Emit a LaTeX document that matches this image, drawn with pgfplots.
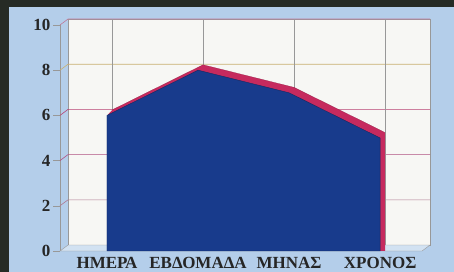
\documentclass[border=0pt]{standalone}
\usepackage{fontspec}
\setmainfont{Liberation Serif}
\usepackage{pgfplots}
\usepackage{pgfplotstable}
\pgfplotsset{compat=1.18}
\definecolor{bgdark}{HTML}{262B25}
\definecolor{panel}{HTML}{B4CEEA}
\definecolor{wall}{HTML}{F7F7F4}
\definecolor{navy}{HTML}{183B8C}
\definecolor{crim}{HTML}{C62A5E}
\definecolor{gridg}{HTML}{989898}
\definecolor{gA}{HTML}{C07898}
\definecolor{gB}{HTML}{C8B070}
\definecolor{gC}{HTML}{B84070}
\definecolor{gD}{HTML}{B05080}
\definecolor{gE}{HTML}{B07890}
\pgfplotstableread{
x y
0 6
1 8
2 7
3 5
}\data
\begin{document}
\begin{tikzpicture}[x=1pt,y=1pt]
\fill[bgdark] (0,0) rectangle (454,272);
\fill[panel] (9,0) rectangle (454,265);
\begin{axis}[at={(60pt,21pt)}, anchor=south west, scale only axis,
 width=362pt, height=226pt,
 xmin=-0.516, xmax=3.46, ymin=0, ymax=10, clip=false,
 axis x line*=bottom, axis y line*=left,
 x axis line style={draw=none},
 y axis line style={draw=gridg, thin, -},
 xtick={0,1,2,3}, xticklabels={ΗΜΕΡΑ, ΕΒΔΟΜΑΔΑ, ΜΗΝΑΣ, ΧΡΟΝΟΣ},
 ytick={0,2,4,6,8,10}, tick align=outside, major tick length=7pt,
 xtick style={draw=none}, ytick style={draw=gridg, thin},
 ticklabel style={font=\fontsize{17}{17}\selectfont\bfseries, text=black!85},
 xticklabel style={yshift=4.5pt},
 yticklabel style={xshift=1pt},
 /pgf/number format/assume math mode=true,
]
% back wall and floor
\filldraw[fill=wall, draw=gridg, thin] (axis cs:-0.428,0.265) rectangle (axis cs:3.548,10.265);
\filldraw[fill=panel!60!white, draw=gridg, thin] (axis cs:-0.516,0) -- (axis cs:3.46,0) -- (axis cs:3.548,0.265) -- (axis cs:-0.428,0.265) -- cycle;
% horizontal grid lines and side connectors
\draw[gA, semithick] (axis cs:-0.516,10) -- (axis cs:-0.428,10.265) -- (axis cs:3.548,10.265);
\draw[gB, semithick] (axis cs:-0.516,8) -- (axis cs:-0.428,8.265) -- (axis cs:3.548,8.265);
\draw[gC, semithick] (axis cs:-0.516,6) -- (axis cs:-0.428,6.265) -- (axis cs:3.548,6.265);
\draw[gD, semithick] (axis cs:-0.516,4) -- (axis cs:-0.428,4.265) -- (axis cs:3.548,4.265);
\draw[gE, semithick] (axis cs:-0.516,2) -- (axis cs:-0.428,2.265) -- (axis cs:3.548,2.265);
% vertical grid lines
\draw[gridg, thin] (axis cs:0.055,0.265) -- (axis cs:0.055,10.265);
\draw[gridg, thin] (axis cs:1.055,0.265) -- (axis cs:1.055,10.265);
\draw[gridg, thin] (axis cs:2.055,0.265) -- (axis cs:2.055,10.265);
\draw[gridg, thin] (axis cs:3.055,0.265) -- (axis cs:3.055,10.265);
% depth of the area
\pgfplotsinvokeforeach{0.2,0.4,0.6,0.8,1.0}{
\addplot[fill=crim, draw=none] table[x expr=\thisrow{x}+#1*0.055, y expr=\thisrow{y}+#1*0.24]{\data} \closedcycle;
}
\addplot[draw=crim!75!black, very thin] table[x expr=\thisrow{x}+0.055, y expr=\thisrow{y}+0.24]{\data};
% front face
\addplot[fill=navy, draw=navy!70!black, thin] table{\data} \closedcycle;
\end{axis}
\pgfresetboundingbox
\path[use as bounding box] (0,0) rectangle (454,272);
\end{tikzpicture}
\end{document}
